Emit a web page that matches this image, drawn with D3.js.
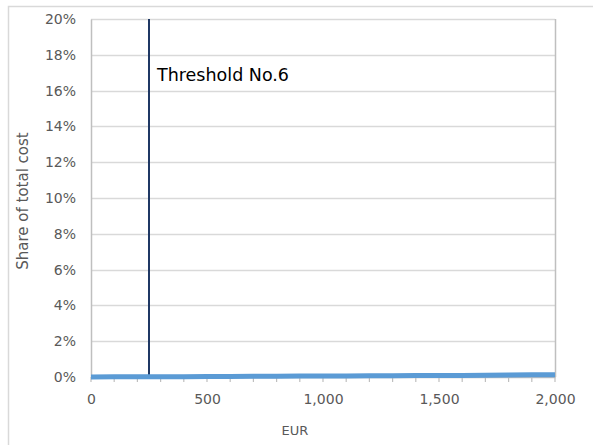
<!DOCTYPE html>
<html>
<head>
<meta charset="utf-8">
<script src="https://cdn.jsdelivr.net/npm/d3@7"></script>
<style>
  html, body { margin: 0; padding: 0; background: #fff; }
  svg { display: block; }
  text { font-family: "DejaVu Sans", Verdana, sans-serif; }
</style>
</head>
<body>
<svg id="chart" width="593" height="445"></svg>
<script>
// Cost in EUR along the x axis
const costEUR = [0, 100, 200, 300, 400, 500, 600, 700, 800, 900, 1000,
                 1100, 1200, 1300, 1400, 1500, 1600, 1700, 1800, 1900, 2000];
// Share of total cost at each cost level
const shareOfTotal = [0.0000, 0.0001, 0.0001, 0.0002, 0.0002, 0.0003, 0.0003, 0.0004, 0.0004, 0.0005, 0.0006,
                      0.0006, 0.0007, 0.0007, 0.0008, 0.0009, 0.0009, 0.0010, 0.0011, 0.0012, 0.0013];
// Threshold marker
const thresholdValue = 250;
const thresholdLabel = "Threshold No.6";
// Axis ticks
const yTicks = [0, 0.02, 0.04, 0.06, 0.08, 0.10, 0.12, 0.14, 0.16, 0.18, 0.20];
const xTicks = [0, 500, 1000, 1500, 2000];
const xMinorTicks = d3.range(0, 2001, 100);

const svg = d3.select("#chart");
const plot = { left: 91, right: 555, top: 19, bottom: 377 };

// Outer chart frame
svg.append("rect")
  .attr("x", 8.5).attr("y", 6.5)
  .attr("width", 600).attr("height", 460)
  .attr("fill", "none").attr("stroke", "#d9d9d9").attr("stroke-width", 1.5);

const x = d3.scaleLinear().domain([0, 2000]).range([plot.left, plot.right]);
const y = d3.scaleLinear().domain([0, 0.20]).range([plot.bottom, plot.top]);

// Horizontal gridlines
svg.append("g")
  .selectAll("line")
  .data(yTicks.filter(d => d > 0))
  .join("line")
  .attr("x1", plot.left).attr("x2", plot.right)
  .attr("y1", d => Math.round(y(d)) + 0.5).attr("y2", d => Math.round(y(d)) + 0.5)
  .attr("stroke", "#d9d9d9").attr("stroke-width", 1.3);

// Right border of plot area
svg.append("line")
  .attr("x1", plot.right + 0.5).attr("x2", plot.right + 0.5)
  .attr("y1", plot.top).attr("y2", plot.bottom)
  .attr("stroke", "#bfbfbf").attr("stroke-width", 1.5);

// Y axis
const yAxis = svg.append("g")
  .attr("transform", `translate(${plot.left},0)`)
  .call(d3.axisLeft(y).tickValues(yTicks).tickFormat(d3.format(".0%")).tickSize(0).tickPadding(15));
yAxis.select(".domain").attr("stroke", "#bfbfbf").attr("stroke-width", 1.5);
yAxis.selectAll("text").attr("fill", "#595959").style("font-size", "14px");

// X axis with minor ticks
const xAxis = svg.append("g")
  .attr("transform", `translate(0,${plot.bottom})`)
  .call(d3.axisBottom(x).tickValues(xTicks).tickFormat(d3.format(",")).tickSize(0).tickPadding(17));
xAxis.select(".domain").attr("stroke", "#bfbfbf").attr("stroke-width", 1.5);
xAxis.selectAll("text").attr("fill", "#595959").style("font-size", "14px");
svg.append("g")
  .selectAll("line")
  .data(xMinorTicks)
  .join("line")
  .attr("x1", d => x(d)).attr("x2", d => x(d))
  .attr("y1", plot.bottom).attr("y2", plot.bottom + 5)
  .attr("stroke", "#bfbfbf").attr("stroke-width", 1.2);

// Axis titles
svg.append("text")
  .attr("transform", `translate(28,${(plot.top + plot.bottom) / 2 + 3}) rotate(-90)`)
  .attr("text-anchor", "middle")
  .attr("fill", "#595959").style("font-size", "15px")
  .text("Share of total cost");
svg.append("text")
  .attr("x", 295).attr("y", 435)
  .attr("text-anchor", "middle")
  .attr("fill", "#595959").style("font-size", "13px")
  .text("EUR");

// Threshold line and label
svg.append("line")
  .attr("x1", x(thresholdValue)).attr("x2", x(thresholdValue))
  .attr("y1", y(0.20)).attr("y2", y(0))
  .attr("stroke", "#1f3864").attr("stroke-width", 2);
svg.append("text")
  .attr("x", x(thresholdValue) + 8).attr("y", y(0.17) + 8)
  .attr("fill", "#000").style("font-size", "17.5px")
  .text(thresholdLabel);

// Share curve
const line = d3.line()
  .x((d, i) => x(costEUR[i]))
  .y(d => y(d));
svg.append("path")
  .datum(shareOfTotal)
  .attr("d", line)
  .attr("fill", "none")
  .attr("stroke", "#5b9bd5")
  .attr("stroke-width", 5)
  .attr("stroke-linecap", "butt");
</script>
</body>
</html>
